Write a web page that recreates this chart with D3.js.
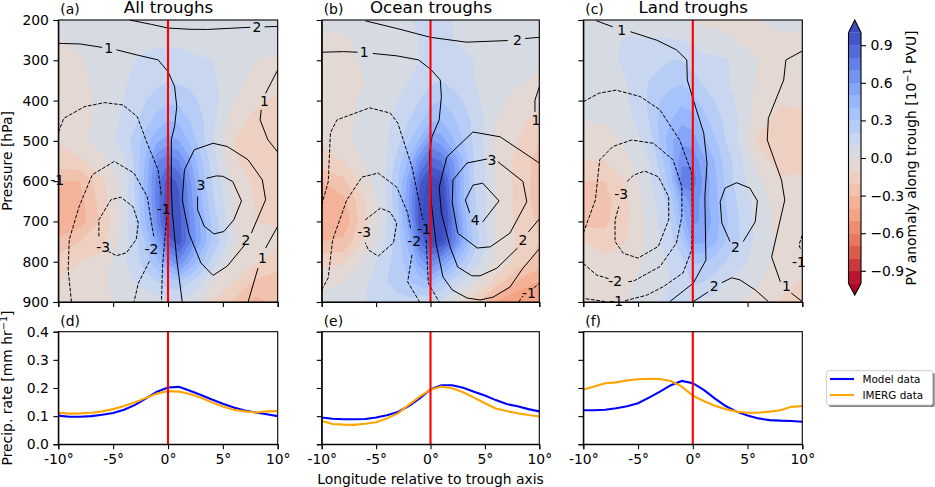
<!DOCTYPE html>
<html>
<head>
<meta charset="utf-8">
<script src="https://cdn.jsdelivr.net/npm/d3@7"></script>
<style>
    html, body { margin: 0; padding: 0; background: #fff; }
    text { font-family: "DejaVu Sans", sans-serif; fill: #000; }
    .domain, .tick line { stroke: #000; stroke-width: 1.1px; }
</style>
</head>
<body>
<svg id="chart" width="935" height="487"></svg>
<script>
// Grid of the filled PV anomaly, finer around the trough axis
const lonGrid = [-10, -8, -6, -4, -3, -2, -1, 0, 1, 2, 3, 4, 6, 8, 10];
const pressureGrid = [200, 250, 300, 350, 400, 450, 500, 550, 600, 650, 700, 750, 800, 850, 900];

const pvAll = [
    [.04, .05, .05, .05, .06, .06, .07, .07, .06, .05, .05, .05, .05, .05, .05],
    [-.01, .03, .05, .06, .07, .07, .08, .08, .08, .07, .06, .06, .05, .05, .03],
    [-.04, -.01, .04, .07, .1, .12, .13, .14, .13, .12, .11, .1, .05, 0, -.01],
    [-.05, -.02, .03, .09, .12, .15, .17, .19, .18, .17, .14, .12, .04, -.03, -.05],
    [-.07, -.03, .02, .1, .16, .2, .25, .28, .27, .24, .18, .15, 0, -.08, -.12],
    [-.08, -.04, .03, .12, .18, .26, .34, .4, .38, .3, .22, .13, -.06, -.13, -.15],
    [-.09, -.03, .05, .14, .25, .36, .48, .55, .5, .38, .24, .12, -.1, -.14, -.14],
    [-.14, -.12, -.03, .08, .22, .42, .68, .78, .7, .52, .32, .16, -.09, -.14, -.15],
    [-.3, -.3, -.12, .05, .22, .45, .75, .95, .88, .62, .38, .2, -.03, -.12, -.14],
    [-.37, -.33, -.15, .05, .2, .45, .75, 1.0, .92, .65, .42, .22, 0, -.11, -.13],
    [-.37, -.35, -.18, .04, .2, .42, .7, 1.0, .95, .7, .48, .28, 0, -.1, -.11],
    [-.28, -.2, -.14, .06, .16, .32, .55, .85, .95, .72, .5, .3, .02, -.07, -.08],
    [-.15, -.1, -.06, .09, .15, .25, .38, .55, .68, .5, .33, .17, -.05, -.09, -.15],
    [-.1, -.06, -.02, .06, .1, .15, .2, .25, .28, .2, .12, 0, -.1, -.22, -.25],
    [-.08, -.05, -.01, .01, .03, .04, .05, .08, .08, .04, 0, -.1, -.22, -.33, -.27]
];
const pvOcean = [
    [.03, .04, .05, .06, .07, .09, .12, .14, .13, .1, .07, .05, .05, .05, .05],
    [-.03, -.02, .04, .06, .07, .07, .1, .12, .14, .1, .09, .07, .05, .05, .04],
    [-.05, -.03, .02, .06, .06, .07, .1, .14, .16, .13, .11, .1, .04, .03, .01],
    [-.05, -.03, 0, .06, .08, .1, .14, .18, .2, .17, .14, .1, .04, .01, -.01],
    [-.06, -.03, .02, .06, .1, .13, .2, .27, .3, .24, .2, .13, .03, -.03, -.08],
    [-.07, -.03, .03, .08, .14, .2, .28, .38, .4, .33, .24, .18, 0, -.08, -.13],
    [-.08, -.03, .04, .09, .17, .28, .42, .62, .55, .42, .3, .18, -.03, -.1, -.2],
    [-.14, -.1, .02, .1, .25, .42, .68, .85, .8, .62, .4, .2, -.01, -.13, -.24],
    [-.3, -.22, -.05, .12, .3, .55, .88, 1.05, 1.0, .7, .42, .2, 0, -.13, -.25],
    [-.37, -.33, -.1, .1, .3, .6, .95, 1.1, 1.1, .72, .42, .22, 0, -.13, -.25],
    [-.4, -.37, -.12, .1, .28, .55, .95, 1.1, 1.1, .8, .48, .22, 0, -.12, -.22],
    [-.3, -.28, -.08, .12, .25, .45, .8, 1.0, 1.0, .78, .5, .27, 0, -.11, -.2],
    [-.13, -.12, .03, .17, .25, .35, .55, .7, .6, .45, .3, .15, -.02, -.14, -.25],
    [-.03, 0, .08, .2, .25, .3, .35, .4, .28, .18, .1, .02, -.13, -.32, -.4],
    [.03, .05, .1, .14, .16, .17, .13, .12, .08, .02, -.08, -.15, -.4, -.5, -.42]
];
const pvLand = [
    [.05, .05, .04, .03, .02, .01, 0, -.01, -.02, -.02, -.02, -.02, 0, .03, .03],
    [.05, .07, .11, .11, .11, .11, .1, .08, .04, .03, .01, 0, -.02, -.02, -.02],
    [.05, .07, .12, .15, .17, .2, .2, .16, .13, .12, .11, .08, 0, -.03, -.04],
    [.05, .06, .1, .2, .24, .27, .28, .23, .18, .15, .11, .08, -.02, -.05, -.05],
    [.03, .04, .09, .22, .3, .34, .37, .33, .26, .2, .14, .09, -.03, -.09, -.08],
    [0, .01, .06, .2, .32, .4, .48, .45, .34, .25, .18, .11, -.07, -.13, -.13],
    [-.05, -.04, .02, .14, .32, .48, .58, .55, .42, .32, .2, .11, -.12, -.19, -.14],
    [-.1, -.1, -.02, .1, .24, .42, .68, .68, .53, .4, .26, .16, -.05, -.14, -.13],
    [-.2, -.2, -.09, .08, .18, .36, .75, .76, .58, .43, .28, .16, .02, -.09, -.08],
    [-.24, -.24, -.11, .05, .14, .26, .5, .66, .56, .43, .3, .2, .05, -.05, -.04],
    [-.24, -.22, -.11, .03, .11, .2, .42, .62, .58, .46, .32, .22, .06, -.04, -.03],
    [-.1, -.16, -.1, .03, .1, .17, .28, .52, .52, .42, .3, .22, .06, -.03, -.02],
    [-.04, -.07, -.06, .03, .07, .12, .17, .32, .3, .26, .2, .15, .04, -.03, -.04],
    [-.03, -.04, -.02, .04, .06, .1, .12, .22, .2, .16, .1, .07, .01, -.06, -.11],
    [-.02, -.01, 0, .06, .1, .15, .14, .12, .08, .06, .03, .01, -.05, -.11, -.12]
];

// Omega contours, [lon, pressure]. Broken where a label sits.
const solidAll = [
    [[-3.5, 200], [-1.5, 211], [0, 220], [2, 223], [3.6, 223.5], [7.5, 218]],
    [[8.8, 217], [10, 216]],
    [[-10, 258], [-8, 259.5], [-6, 268]],
    [[-4.7, 274], [-2.8, 287], [-.9, 299], [0, 328], [.6, 365], [.8, 415], [.6, 464], [.3, 497], [.3, 613], [.4, 679], [.8, 795], [1.3, 900]],
    [[7, 758], [5.4, 811], [4.1, 834], [3, 803], [1.9, 729], [1.3, 646], [1.5, 572], [2.4, 522], [4.1, 506], [5.4, 514], [7.3, 547], [8.6, 597], [8.9, 646], [7.6, 729]],
    [[3.5, 593], [4.4, 587], [5, 588], [5.9, 601], [6.7, 649], [6, 696], [5.1, 725], [4.2, 731], [3.3, 712], [2.7, 671], [2.7, 638]],
    [[10, 324], [8.9, 382]],
    [[8.5, 423], [8.4, 448], [9.1, 497], [10, 528]],
    [[10, 712], [8.9, 766]],
    [[8.2, 816], [7.3, 900]]
];
const dashedAll = [
    [[-10, 479], [-9.5, 444], [-7.6, 415], [-5.8, 405], [-4.1, 411], [-2.8, 440], [-1.9, 506], [-.9, 572], [-.6, 638]],
    [[-.1, 688], [-.3, 745], [-.5, 811], [-.6, 900]],
    [[-8.8, 900], [-9.1, 820], [-9, 745], [-8.1, 663], [-6.9, 584], [-4.9, 551], [-3.1, 580], [-1.9, 638], [-1.3, 737]],
    [[-1.7, 799], [-2.7, 853], [-3.1, 900]],
    [[-6.3, 737], [-6.3, 696], [-5.2, 646], [-4.3, 640], [-3.2, 663], [-2.7, 704], [-2.9, 745], [-3.8, 778], [-4.7, 785], [-5.4, 775]]
];
const labelsAll = [
    ["2", 8.1, 217], ["1", -5.4, 270], ["1", 8.8, 400], ["1", 8.6, 791], ["2", 7.1, 745],
    ["3", 3, 609], ["-1", -.4, 668], ["-2", -1.5, 768], ["-3", -5.9, 764], ["-1", -10.1, 598]
];

const solidOcean = [
    [[-6, 202], [-3.1, 221], [0, 243], [3.3, 255], [7.1, 251]],
    [[8.7, 246], [10, 243]],
    [[-10, 280], [-8, 278.5], [-6.7, 280]],
    [[-5.3, 283], [-3.1, 289], [-1.1, 299], [0, 322], [.9, 349], [1, 390], [.8, 448], [.15, 489], [-.1, 531], [.1, 659], [.5, 753], [1.15, 838], [2, 870], [3.35, 890], [4.55, 895], [5.75, 888], [7.3, 863], [8.5, 816], [10, 768]],
    [[8, 766], [6.1, 816], [4.55, 835], [3.8, 835], [2.5, 813], [1.8, 763], [1, 679], [.8, 615], [1.5, 540], [3.9, 478], [6.4, 490], [10, 555]],
    [[9, 726], [10, 694]],
    [[5.2, 545], [3.35, 555], [2.07, 597], [2, 654], [2.5, 729], [4.3, 766], [5.5, 763], [7.3, 729], [8.85, 651], [8.5, 601], [6.2, 552]],
    [[3.6, 679], [3.2, 647], [3.9, 610], [4.8, 605], [6.3, 649], [4.8, 701]],
    [[10, 366], [9.6, 399], [9.6, 428]]
];
const dashedOcean = [
    [[-10, 659], [-9.4, 602], [-9.2, 480], [-8.6, 448], [-5.6, 418], [-3.7, 431], [-3, 456], [-1.7, 565], [-.7, 696]],
    [[-.4, 746], [-.2, 853], [.8, 900]],
    [[-10, 870], [-9.4, 840], [-9, 746], [-7.7, 647], [-6.3, 590], [-4.8, 580], [-3.1, 615], [-2.1, 679], [-1.8, 721]],
    [[-1.7, 783], [-2.1, 850], [-1, 900]],
    [[-6, 696], [-4.6, 667], [-3.7, 677], [-3.1, 704], [-3.4, 753], [-4.8, 786], [-5.7, 771], [-6, 753]],
    [[8.1, 900], [8.5, 885]],
    [[9.5, 865], [10, 853]]
];
const labelsOcean = [
    ["2", 8, 249], ["1", -6.1, 280], ["1", 9.7, 448], ["2", 8.5, 745], ["3", 5.65, 547],
    ["4", 4.1, 696], ["-1", -.6, 719], ["-2", -1.5, 748], ["-3", -6.1, 726], ["-1", 9.05, 878]
];

const solidLand = [
    [[-8.8, 202], [-7.3, 217]],
    [[-5.7, 229], [-3.3, 250], [-1.5, 274], [-.55, 299], [-.5, 349], [.1, 403], [1, 481], [1.3, 556], [1.1, 639], [1.2, 796], [.05, 853], [-2.1, 899]],
    [[.05, 899], [1.4, 875]],
    [[2.65, 852], [3.55, 840], [4.3, 845], [5.7, 870], [6.9, 899]],
    [[3.4, 750], [2.65, 704], [2.5, 651], [2.95, 617], [4, 604], [5.2, 617], [5.9, 649], [5.7, 701], [4.6, 750]],
    [[10, 277], [8.5, 299], [8.3, 349], [6.9, 444], [6.8, 498], [8.1, 597], [8.4, 647], [7.2, 788], [8, 850]],
    [[9, 878], [10, 899]]
];
const dashedLand = [
    [[-10, 403], [-8.6, 382], [-7, 374], [-4.8, 390], [-3, 423], [-1.2, 498], [-.1, 580], [-.05, 680], [-.1, 771], [-.9, 828], [-2.7, 862], [-4.2, 883], [-6.2, 897]],
    [[-8, 899], [-10, 891]],
    [[-10, 729], [-8.9, 647], [-8.5, 547], [-7.3, 514], [-5.6, 498], [-3.6, 506], [-1.8, 547], [-1, 614], [-1, 688], [-1.5, 754], [-3, 812], [-5.4, 848], [-6, 850]],
    [[-7.7, 842], [-8.8, 833], [-10, 804]],
    [[-6, 601], [-5.4, 585], [-4.4, 575], [-3.15, 589], [-2.2, 639], [-2.2, 696], [-3.15, 762], [-5, 791], [-6.35, 779], [-7.1, 750], [-7.1, 696], [-6.75, 663]],
    [[10, 734], [9.7, 758], [9.85, 770]]
];
const labelsLand = [
    ["1", -6.5, 224], ["2", 3.9, 764], ["2", 1.95, 860], ["1", 8.55, 860],
    ["-3", -6.55, 632], ["-2", -7.1, 848], ["-1", -7, 897], ["-1", 9.7, 800]
];

// Precipitation along the trough
const lonPrecip = d3.range(-10, 11);
const modelAll = [.102, .098, .098, .1, .105, .111, .123, .14, .163, .187, .202, .204, .19, .175, .159, .144, .131, .12, .113, .107, .1];
const imergAll = [.112, .109, .11, .112, .117, .125, .136, .149, .165, .18, .189, .187, .179, .165, .149, .134, .123, .117, .113, .117, .118];
const modelOcean = [.095, .091, .089, .089, .09, .095, .103, .115, .136, .163, .195, .21, .21, .201, .187, .173, .157, .143, .135, .125, .117];
const imergOcean = [.083, .072, .07, .069, .073, .078, .092, .11, .14, .169, .194, .205, .199, .185, .166, .146, .127, .118, .11, .104, .099];
const modelLand = [.121, .121, .123, .128, .135, .146, .166, .187, .21, .225, .217, .193, .163, .136, .116, .102, .092, .086, .084, .083, .08];
const imergLand = [.195, .205, .217, .22, .227, .231, .233, .232, .225, .205, .173, .154, .137, .125, .116, .112, .112, .116, .121, .133, .136];

const lonTicks = [-10, -5, 0, 5, 10];
const pressureTicks = [200, 300, 400, 500, 600, 700, 800, 900];
const precipTicks = [0, 0.1, 0.2, 0.3, 0.4];
const levels = d3.range(-10, 11).map(d => d / 10);
const cbarTicks = [-0.9, -0.6, -0.3, 0, 0.3, 0.6, 0.9];

const panels = [
    { left: 58.3, right: 277.7, pv: pvAll, solid: solidAll, dashed: dashedAll, labels: labelsAll, model: modelAll, imerg: imergAll, tag: "(a)", tag2: "(d)", title: "All troughs" },
    { left: 321.7, right: 539.3, pv: pvOcean, solid: solidOcean, dashed: dashedOcean, labels: labelsOcean, model: modelOcean, imerg: imergOcean, tag: "(b)", tag2: "(e)", title: "Ocean troughs" },
    { left: 583.3, right: 802.3, pv: pvLand, solid: solidLand, dashed: dashedLand, labels: labelsLand, model: modelLand, imerg: imergLand, tag: "(c)", tag2: "(f)", title: "Land troughs" }
];

const topY = [20, 302];
const lowY = [331.7, 444.3];
const tickSize = 4.9;
const fontSize = "13.9px";

const svg = d3.select("#chart");

// coolwarm, reversed: positive PV is blue
const coolwarm = d3.scaleLinear()
    .domain([0, 1 / 7, 2 / 7, 3 / 7, 0.5, 4 / 7, 5 / 7, 6 / 7, 1])
    .range(["#3b4cc0", "#6788ee", "#9abbff", "#c9d7f0", "#dddcdc", "#edd1c2", "#f7a889", "#e26952", "#b40426"]);
const bandColor = v => coolwarm(Math.max(0, Math.min(1, 1 - (v + 1) / 2)));

const y = d3.scaleLinear().domain([200, 900]).range(topY);
const yPrecip = d3.scaleLinear().domain([0, 0.4]).range([lowY[1], lowY[0]]);

const styleAxis = g => g.selectAll("text").style("font-size", fontSize).attr("fill", "#000");

panels.forEach((panel, i) => {
    const x = d3.scaleLinear().domain([-10, 10]).range([panel.left, panel.right]);
    const g = svg.append("g");

    // Filled PV anomaly
    const clipId = `clip-${i}`;
    g.append("clipPath").attr("id", clipId).append("rect")
        .attr("x", panel.left).attr("y", topY[0])
        .attr("width", panel.right - panel.left).attr("height", topY[1] - topY[0]);

    const field = g.append("g").attr("clip-path", `url(#${clipId})`);
    field.append("rect")
        .attr("x", panel.left).attr("y", topY[0])
        .attr("width", panel.right - panel.left).attr("height", topY[1] - topY[0])
        .attr("fill", bandColor(-1));

    const nx = lonGrid.length, ny = pressureGrid.length;
    const contours = d3.contours().size([nx, ny]).thresholds(levels)(panel.pv.flat());
    // contour coordinates are grid indices, the lon grid is not even
    const lonOfIndex = d3.scaleLinear().domain(d3.range(nx)).range(lonGrid);
    const pOfIndex = d3.scaleLinear().domain(d3.range(ny)).range(pressureGrid);
    const gridPath = d3.geoPath(d3.geoTransform({
        point: function(gx, gy) {
            this.stream.point(x(lonOfIndex(gx - 0.5)), y(pOfIndex(gy - 0.5)));
        }
    }));
    field.selectAll("path.band")
        .data(contours)
        .enter()
        .append("path")
        .attr("class", "band")
        .attr("d", gridPath)
        .attr("fill", d => bandColor(d.value + 0.05));

    // Contour lines
    const line = d3.line().x(d => x(d[0])).y(d => y(d[1]));
    field.selectAll("path.solid")
        .data(panel.solid)
        .enter()
        .append("path")
        .attr("class", "solid")
        .attr("d", line)
        .attr("fill", "none")
        .attr("stroke", "#000")
        .attr("stroke-width", 1);
    field.selectAll("path.dashed")
        .data(panel.dashed)
        .enter()
        .append("path")
        .attr("class", "dashed")
        .attr("d", line)
        .attr("fill", "none")
        .attr("stroke", "#000")
        .attr("stroke-width", 1)
        .attr("stroke-dasharray", "3.7,1.6");

    // Trough axis
    g.append("line")
        .attr("x1", x(0)).attr("x2", x(0))
        .attr("y1", topY[0]).attr("y2", topY[1])
        .attr("stroke", "#ff0000").attr("stroke-width", 2.1);

    g.selectAll("text.clabel")
        .data(panel.labels)
        .enter()
        .append("text")
        .attr("class", "clabel")
        .attr("x", d => x(d[1]))
        .attr("y", d => y(d[2]))
        .attr("dy", "0.36em")
        .attr("text-anchor", "middle")
        .style("font-size", fontSize)
        .text(d => d[0]);

    // Upper axes
    g.append("g")
        .attr("transform", `translate(0,${topY[1]})`)
        .call(d3.axisBottom(x).tickValues(lonTicks).tickSize(tickSize).tickFormat(""));
    g.append("g")
        .attr("transform", `translate(${panel.left},0)`)
        .call(d3.axisLeft(y).tickValues(pressureTicks).tickSize(tickSize).tickPadding(4.5).tickFormat(i === 0 ? d3.format("d") : ""))
        .call(styleAxis);
    g.append("rect")
        .attr("x", panel.left).attr("y", topY[0])
        .attr("width", panel.right - panel.left).attr("height", topY[1] - topY[0])
        .attr("fill", "none").attr("stroke", "#000").attr("stroke-width", 1.1);

    g.append("text")
        .attr("x", panel.left + 2).attr("y", 13.5)
        .style("font-size", fontSize)
        .text(panel.tag);
    g.append("text")
        .attr("x", (panel.left + panel.right) / 2 + 0.5).attr("y", 12.5)
        .attr("text-anchor", "middle")
        .style("font-size", "16.67px")
        .text(panel.title);

    // Precipitation panel
    const precipLine = d3.line().x((d, j) => x(lonPrecip[j])).y(d => yPrecip(d));
    g.append("path").datum(panel.model)
        .attr("d", precipLine).attr("fill", "none")
        .attr("stroke", "#0000ff").attr("stroke-width", 2.1);
    g.append("path").datum(panel.imerg)
        .attr("d", precipLine).attr("fill", "none")
        .attr("stroke", "#ffa500").attr("stroke-width", 2.1);
    g.append("line")
        .attr("x1", x(0)).attr("x2", x(0))
        .attr("y1", lowY[0]).attr("y2", lowY[1])
        .attr("stroke", "#ff0000").attr("stroke-width", 2.1);

    g.append("g")
        .attr("transform", `translate(0,${lowY[1]})`)
        .call(d3.axisBottom(x).tickValues(lonTicks).tickSize(tickSize).tickPadding(4.5).tickFormat(d => `${d}°`))
        .call(styleAxis);
    g.append("g")
        .attr("transform", `translate(${panel.left},0)`)
        .call(d3.axisLeft(yPrecip).tickValues(precipTicks).tickSize(tickSize).tickPadding(4.5).tickFormat(i === 0 ? d3.format(".1f") : ""))
        .call(styleAxis);
    g.append("rect")
        .attr("x", panel.left).attr("y", lowY[0])
        .attr("width", panel.right - panel.left).attr("height", lowY[1] - lowY[0])
        .attr("fill", "none").attr("stroke", "#000").attr("stroke-width", 1.1);

    g.append("text")
        .attr("x", panel.left + 2).attr("y", 325.5)
        .style("font-size", fontSize)
        .text(panel.tag2);
});

// Axis titles
svg.append("text")
    .attr("transform", "translate(12,161) rotate(-90)")
    .attr("text-anchor", "middle")
    .style("font-size", fontSize)
    .text("Pressure [hPa]");

const precipTitle = svg.append("text")
    .attr("transform", "translate(12,388) rotate(-90)")
    .attr("text-anchor", "middle")
    .style("font-size", fontSize);
precipTitle.append("tspan").text("Precip. rate [mm hr");
precipTitle.append("tspan").attr("dy", -5).style("font-size", "9.7px").text("−1");
precipTitle.append("tspan").attr("dy", 5).text("]");

svg.append("text")
    .attr("x", 430.5).attr("y", 484)
    .attr("text-anchor", "middle")
    .style("font-size", fontSize)
    .text("Longitude relative to trough axis");

// Colour bar
const cbarX = [848.5, 861];
const cbarScale = d3.scaleLinear().domain([-1, 1]).range([283.3, 32.7]);
const cbar = svg.append("g");
cbar.selectAll("rect")
    .data(levels.slice(0, -1))
    .enter()
    .append("rect")
    .attr("x", cbarX[0])
    .attr("y", d => cbarScale(d + 0.1))
    .attr("width", cbarX[1] - cbarX[0])
    .attr("height", d => cbarScale(d) - cbarScale(d + 0.1) + 0.3)
    .attr("fill", d => bandColor(d + 0.05));
const midX = (cbarX[0] + cbarX[1]) / 2;
const tipTop = cbarScale(1) - 12.7, tipBottom = cbarScale(-1) + 11.7;
cbar.append("path")
    .attr("d", `M${cbarX[0]},${cbarScale(1)}L${midX},${tipTop}L${cbarX[1]},${cbarScale(1)}Z`)
    .attr("fill", bandColor(1.05));
cbar.append("path")
    .attr("d", `M${cbarX[0]},${cbarScale(-1)}L${midX},${tipBottom}L${cbarX[1]},${cbarScale(-1)}Z`)
    .attr("fill", bandColor(-1.05));
cbar.append("path")
    .attr("d", `M${cbarX[0]},${cbarScale(1)}L${midX},${tipTop}L${cbarX[1]},${cbarScale(1)}L${cbarX[1]},${cbarScale(-1)}L${midX},${tipBottom}L${cbarX[0]},${cbarScale(-1)}Z`)
    .attr("fill", "none").attr("stroke", "#000").attr("stroke-width", 1.1);
svg.append("g")
    .attr("transform", `translate(${cbarX[1]},0)`)
    .call(d3.axisRight(cbarScale).tickValues(cbarTicks).tickSize(tickSize).tickPadding(4.5).tickFormat(d3.format(".1f")))
    .call(g => g.select(".domain").remove())
    .call(styleAxis);

const cbarTitle = svg.append("text")
    .attr("transform", "translate(916,158) rotate(-90)")
    .attr("text-anchor", "middle")
    .style("font-size", fontSize);
cbarTitle.append("tspan").text("PV anomaly along trough [10");
cbarTitle.append("tspan").attr("dy", -5).style("font-size", "9.7px").text("−1");
cbarTitle.append("tspan").attr("dy", 5).text(" PVU]");

// Legend
const legend = svg.append("g");
legend.append("rect")
    .attr("x", 828.7).attr("y", 372.7).attr("width", 106).attr("height", 34.3).attr("rx", 2)
    .attr("fill", "#7f7f7f");
legend.append("rect")
    .attr("x", 826.7).attr("y", 370.7).attr("width", 106).attr("height", 34.3).attr("rx", 2)
    .attr("fill", "#fff").attr("stroke", "#cccccc").attr("stroke-width", 1);
[["Model data", "#0000ff", 379], ["IMERG data", "#ffa500", 395]].forEach(d => {
    legend.append("line")
        .attr("x1", 830).attr("x2", 854)
        .attr("y1", d[2]).attr("y2", d[2])
        .attr("stroke", d[1]).attr("stroke-width", 2.1);
    legend.append("text")
        .attr("x", 862.5).attr("y", d[2])
        .attr("dy", "0.36em")
        .style("font-size", "10.4px")
        .text(d[0]);
});
</script>
</body>
</html>
